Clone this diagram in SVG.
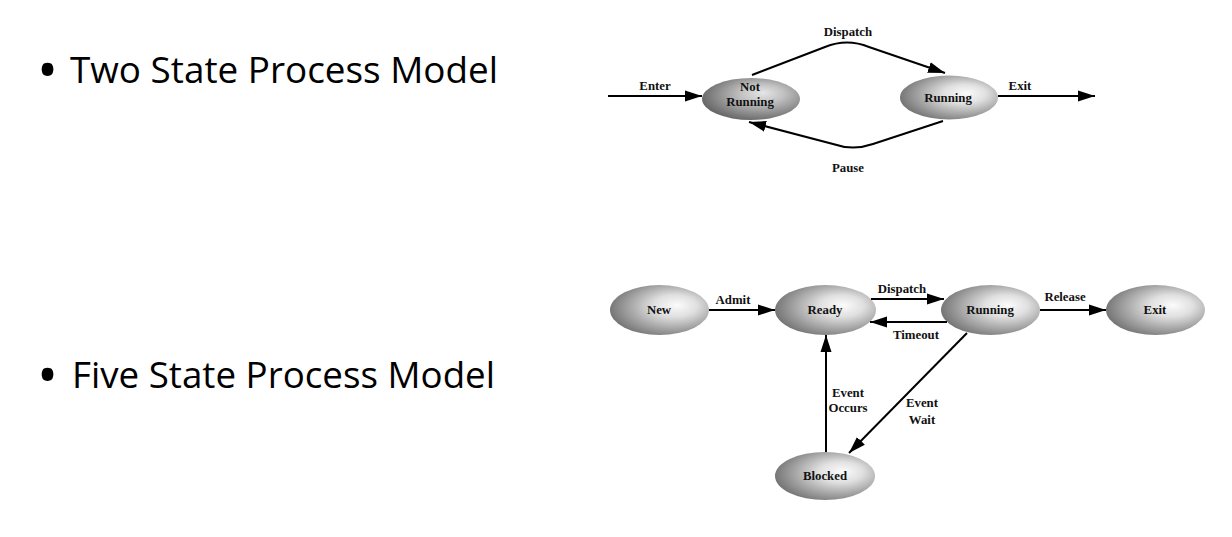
<svg xmlns="http://www.w3.org/2000/svg" width="1232" height="537" viewBox="0 0 1232 537">
<style>
.bullet{font-family:"Open Sans","Noto Sans","Liberation Sans",sans-serif;font-size:37px;fill:#000}
.dot{font-family:"Open Sans","Noto Sans","Liberation Sans",sans-serif;font-size:56px;fill:#000}
.lbl{font-family:"Liberation Serif","Times New Roman",serif;font-weight:bold;font-size:12.8px;fill:#111;text-anchor:middle}
.node{stroke:none}
.edge{fill:none;stroke:#000;stroke-width:2}
</style>
<defs>
<radialGradient id="g" cx="0.62" cy="0.45" r="0.62" fx="0.68" fy="0.4">
<stop offset="0" stop-color="#fbfbfb"/>
<stop offset="0.35" stop-color="#e0e0e0"/>
<stop offset="1" stop-color="#767676"/>
</radialGradient>
<radialGradient id="gd" cx="0.6" cy="0.42" r="0.62" fx="0.62" fy="0.35">
<stop offset="0" stop-color="#e6e6e6"/>
<stop offset="0.35" stop-color="#c2c2c2"/>
<stop offset="1" stop-color="#666"/>
</radialGradient>
<marker id="ah" markerUnits="userSpaceOnUse" markerWidth="17" markerHeight="12" viewBox="0 0 17 12" refX="17" refY="6" orient="auto">
<path d="M0,0.5 L17,6 L0,11.5 Z" fill="#000"/>
</marker>
</defs>
<rect width="1232" height="537" fill="#fff"/>
<g id="bullets">
<text class="dot" x="37" y="90">•</text>
<text class="bullet" x="70" y="83" textLength="428" lengthAdjust="spacingAndGlyphs">Two State Process Model</text>
<text class="dot" x="37" y="395">•</text>
<text class="bullet" x="72" y="388" textLength="423" lengthAdjust="spacingAndGlyphs">Five State Process Model</text>
</g>
<g id="two-notrunning">
<ellipse class="node" cx="751" cy="99" rx="49" ry="21" fill="url(#gd)"/>
<text class="lbl" x="750" y="91">Not</text>
<text class="lbl" x="750" y="106">Running</text>
</g>
<g id="two-running">
<ellipse class="node" cx="949" cy="97.5" rx="49" ry="22" fill="url(#g)"/>
<text class="lbl" x="948" y="102">Running</text>
</g>
<g id="five-new">
<ellipse class="node" cx="659.5" cy="310" rx="49.5" ry="25" fill="url(#g)"/>
<text class="lbl" x="659" y="314">New</text>
</g>
<g id="five-ready">
<ellipse class="node" cx="825.5" cy="310" rx="50.5" ry="25" fill="url(#g)"/>
<text class="lbl" x="825" y="314">Ready</text>
</g>
<g id="five-running">
<ellipse class="node" cx="990.5" cy="310" rx="49.5" ry="25" fill="url(#g)"/>
<text class="lbl" x="990" y="314">Running</text>
</g>
<g id="five-exit">
<ellipse class="node" cx="1155.5" cy="310" rx="49.5" ry="25" fill="url(#g)"/>
<text class="lbl" x="1155" y="314">Exit</text>
</g>
<g id="five-blocked">
<ellipse class="node" cx="825" cy="476" rx="50" ry="24" fill="url(#g)"/>
<text class="lbl" x="825" y="480">Blocked</text>
</g>
<g id="connectors">
<path class="edge" d="M608,96 L702,96" marker-end="url(#ah)"/>
<path class="edge" d="M998,96 L1095,96" marker-end="url(#ah)"/>
<path class="edge" d="M752,75 L825,47 Q847,38 869,47 L945,73" marker-end="url(#ah)"/>
<path class="edge" d="M943,121 L873,144 Q853,151 833,144 L749,122" marker-end="url(#ah)"/>
<path class="edge" d="M709,310 L775,310" marker-end="url(#ah)"/>
<path class="edge" d="M871,299 L944,299" marker-end="url(#ah)"/>
<path class="edge" d="M947,322 L870,322" marker-end="url(#ah)"/>
<path class="edge" d="M1040,310 L1106,310" marker-end="url(#ah)"/>
<path class="edge" d="M967,333 L849,453" marker-end="url(#ah)"/>
<path class="edge" d="M826,452 L826,335" marker-end="url(#ah)"/>
<text class="lbl" x="655" y="90">Enter</text>
<text class="lbl" x="1020" y="90">Exit</text>
<text class="lbl" x="848" y="36">Dispatch</text>
<text class="lbl" x="848" y="172">Pause</text>
<text class="lbl" x="733" y="304">Admit</text>
<text class="lbl" x="902" y="293">Dispatch</text>
<text class="lbl" x="916" y="339">Timeout</text>
<text class="lbl" x="1065" y="301">Release</text>
<text class="lbl" x="922" y="407">Event</text>
<text class="lbl" x="922" y="424">Wait</text>
<text class="lbl" x="848" y="397">Event</text>
<text class="lbl" x="848" y="412">Occurs</text>
</g>
</svg>
